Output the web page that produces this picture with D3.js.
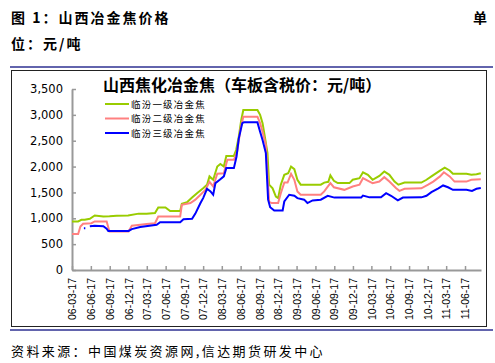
<!DOCTYPE html>
<html>
<head>
<meta charset="utf-8">
<script src="https://cdn.jsdelivr.net/npm/d3@7"></script>
<style>
  body { margin: 0; background: #fff; }
  svg { display: block; }
</style>
</head>
<body>
<svg id="chart" width="495" height="363"></svg>
<script>
// series names, as in the legend
var seriesNames = ["临汾一级冶金焦", "临汾二级冶金焦", "临汾三级冶金焦"];
var seriesColors = ["#99CC00", "#FF8080", "#0000FF"];

var yTicks = [0, 500, 1000, 1500, 2000, 2500, 3000, 3500];

var xTickLabels = ["06-03-17", "06-06-17", "06-09-17", "06-12-17", "07-03-17", "07-06-17",
  "07-09-17", "07-12-17", "08-03-17", "08-06-17", "08-09-17", "08-12-17", "09-03-17",
  "09-06-17", "09-09-17", "09-12-17", "10-03-17", "10-06-17", "10-09-17", "10-12-17",
  "11-03-17", "11-06-17"];

// 临汾一级冶金焦 (yuan/ton)
var grade1 = [
  ["2006-03-17", 940], ["2006-04-16", 940], ["2006-05-02", 970], ["2006-05-18", 970],
  ["2006-06-12", 990], ["2006-07-06", 1055], ["2006-08-17", 1035], ["2006-09-16", 1040],
  ["2006-10-21", 1050], ["2006-12-16", 1055], ["2007-02-05", 1090], ["2007-03-16", 1090],
  ["2007-04-26", 1100], ["2007-05-12", 1210], ["2007-06-16", 1210], ["2007-07-09", 1140],
  ["2007-08-27", 1140], ["2007-09-04", 1280], ["2007-09-29", 1310], ["2007-10-24", 1400],
  ["2007-11-17", 1485], ["2007-12-17", 1580], ["2008-01-05", 1650], ["2008-01-17", 1810],
  ["2008-02-04", 1745], ["2008-02-24", 2000], ["2008-03-10", 2050], ["2008-03-27", 2000],
  ["2008-04-08", 2205], ["2008-05-15", 2205], ["2008-05-26", 2320], ["2008-06-08", 2580],
  ["2008-06-20", 2900], ["2008-06-30", 3095], ["2008-09-07", 3095], ["2008-09-20", 3000],
  ["2008-10-02", 2840], ["2008-10-13", 2580], ["2008-10-26", 2260], ["2008-11-03", 1650],
  ["2008-11-20", 1580], ["2008-12-06", 1420], ["2008-12-17", 1390], ["2008-12-30", 1650],
  ["2009-01-16", 1840], ["2009-02-04", 1870], ["2009-02-18", 2000], ["2009-03-06", 1950],
  ["2009-03-21", 1745], ["2009-04-06", 1650], ["2009-07-13", 1650], ["2009-07-30", 1690],
  ["2009-08-19", 1705], ["2009-08-29", 1830], ["2009-09-15", 1725], ["2009-10-04", 1680],
  ["2009-11-30", 1680], ["2009-12-16", 1745], ["2010-01-18", 1775], ["2010-02-04", 1890],
  ["2010-02-28", 1840], ["2010-03-23", 1745], ["2010-04-25", 1820], ["2010-05-19", 1905],
  ["2010-06-13", 1840], ["2010-07-08", 1710], ["2010-07-27", 1650], ["2010-08-26", 1690],
  ["2010-11-16", 1690], ["2010-12-11", 1745], ["2011-01-04", 1810], ["2011-02-15", 1920],
  ["2011-03-10", 1980], ["2011-04-03", 1925], ["2011-04-19", 1860], ["2011-06-24", 1860],
  ["2011-07-18", 1840], ["2011-08-12", 1850], ["2011-09-02", 1870]
];

// 临汾二级冶金焦
var grade2 = [
  ["2006-03-17", 695], ["2006-04-16", 695], ["2006-04-27", 840], ["2006-05-10", 895],
  ["2006-06-20", 905], ["2006-07-06", 940], ["2006-09-02", 940], ["2006-09-16", 745],
  ["2006-12-18", 745], ["2007-01-03", 855], ["2007-02-13", 875], ["2007-03-16", 890],
  ["2007-04-26", 905], ["2007-05-12", 1035], ["2007-08-27", 1035], ["2007-09-04", 1260],
  ["2007-10-16", 1295], ["2007-11-09", 1360], ["2007-12-04", 1455], ["2007-12-28", 1550],
  ["2008-01-17", 1705], ["2008-02-04", 1615], ["2008-02-24", 1860], ["2008-03-27", 1870],
  ["2008-04-13", 2130], ["2008-05-15", 2130], ["2008-05-31", 2290], ["2008-06-17", 2740],
  ["2008-06-30", 2965], ["2008-09-07", 2965], ["2008-09-20", 2840], ["2008-10-02", 2675],
  ["2008-10-18", 2420], ["2008-11-03", 1325], ["2008-11-15", 1295], ["2008-12-17", 1295],
  ["2008-12-30", 1485], ["2009-01-16", 1690], ["2009-02-01", 1690], ["2009-02-18", 1860],
  ["2009-03-06", 1745], ["2009-03-21", 1520], ["2009-04-06", 1455], ["2009-07-13", 1455],
  ["2009-07-30", 1520], ["2009-08-29", 1680], ["2009-09-15", 1600], ["2009-11-05", 1550],
  ["2009-12-16", 1615], ["2010-01-18", 1650], ["2010-02-04", 1775], ["2010-03-08", 1710],
  ["2010-03-23", 1680], ["2010-04-25", 1710], ["2010-05-19", 1795], ["2010-06-13", 1710],
  ["2010-07-16", 1580], ["2010-08-01", 1530], ["2010-08-26", 1570], ["2010-11-16", 1580],
  ["2010-12-19", 1650], ["2011-01-13", 1710], ["2011-02-15", 1810], ["2011-03-06", 1890],
  ["2011-04-03", 1810], ["2011-04-27", 1710], ["2011-06-24", 1710], ["2011-07-18", 1745],
  ["2011-09-02", 1755]
];

// 临汾三级冶金焦 (null = no quote)
var grade3 = [
  ["2006-05-14", 805], ["2006-05-21", 805], ["2006-06-01", null],
  ["2006-06-12", 845], ["2006-07-06", 855], ["2006-08-17", 845], ["2006-09-02", 800],
  ["2006-09-10", 755], ["2006-12-18", 755], ["2007-01-03", 790], ["2007-02-13", 830],
  ["2007-05-04", 875], ["2007-05-21", 925], ["2007-08-27", 925], ["2007-09-12", 980],
  ["2007-10-24", 990], ["2007-11-09", 1090], ["2007-12-04", 1295], ["2007-12-17", 1390],
  ["2008-01-05", 1570], ["2008-01-22", 1520], ["2008-02-04", 1455], ["2008-02-15", 1680],
  ["2008-03-07", 1745], ["2008-03-27", 1810], ["2008-04-08", 1970], ["2008-05-15", 1970],
  ["2008-05-28", 2195], ["2008-06-08", 2545], ["2008-06-25", 2840], ["2008-07-03", 2855],
  ["2008-09-07", 2855], ["2008-09-20", 2675], ["2008-10-02", 2515], ["2008-10-18", 2260],
  ["2008-10-29", 1360], ["2008-11-08", 1215], ["2008-11-28", 1150], ["2009-01-08", 1150],
  ["2009-01-16", 1325], ["2009-02-09", 1455], ["2009-03-06", 1435], ["2009-03-21", 1390],
  ["2009-04-23", 1360], ["2009-05-09", 1295], ["2009-06-03", 1345], ["2009-07-13", 1360],
  ["2009-08-16", 1435], ["2009-09-18", 1400], ["2010-01-26", 1400], ["2010-02-04", 1440],
  ["2010-03-08", 1405], ["2010-05-03", 1405], ["2010-05-28", 1485], ["2010-06-21", 1435],
  ["2010-07-24", 1345], ["2010-08-18", 1400], ["2010-11-16", 1405], ["2010-12-11", 1435],
  ["2011-01-04", 1505], ["2011-02-07", 1580], ["2011-03-02", 1635], ["2011-03-26", 1600],
  ["2011-04-19", 1550], ["2011-06-24", 1550], ["2011-07-21", 1530], ["2011-08-12", 1570],
  ["2011-09-02", 1585]
];

var allSeries = [grade1, grade2, grade3];

var svg = d3.select("#chart");
var cjk = "'Noto Sans CJK SC', sans-serif";

// page header
svg.append("text").attr("x", 11).attr("y", 23)
  .attr("font-family", cjk).attr("font-weight", 700).attr("font-size", 14)
  .attr("letter-spacing", 2).attr("fill", "#000")
  .text("图 1：山西冶金焦价格");
svg.append("text").attr("x", 473).attr("y", 23)
  .attr("font-family", cjk).attr("font-weight", 700).attr("font-size", 14)
  .attr("fill", "#000").text("单");
svg.append("text").attr("x", 11).attr("y", 49)
  .attr("font-family", cjk).attr("font-weight", 700).attr("font-size", 14)
  .attr("letter-spacing", 2).attr("fill", "#000")
  .text("位：元/吨");

svg.append("line").attr("x1", 10).attr("x2", 493).attr("y1", 67).attr("y2", 67)
  .attr("stroke", "#2E3192").attr("stroke-width", 1.5);
svg.append("line").attr("x1", 10).attr("x2", 493).attr("y1", 330).attr("y2", 330)
  .attr("stroke", "#2E3192").attr("stroke-width", 1.5);

// chart frame
svg.append("rect").attr("x", 11.5).attr("y", 70.5).attr("width", 475).attr("height", 256)
  .attr("fill", "#fff").attr("stroke", "#222").attr("stroke-width", 1);

var parseDay = d3.timeParse("%Y-%m-%d");
var parseTick = d3.timeParse("%y-%m-%d");

var x = d3.scaleTime()
  .domain([parseDay("2006-03-17"), parseDay("2011-09-03")])
  .range([72, 481]);
var y = d3.scaleLinear().domain([0, 3500]).range([270, 89]);

// y axis
var yAxis = d3.axisLeft(y).tickValues(yTicks).tickSizeInner(-4).tickSizeOuter(0)
  .tickPadding(9).tickFormat(d3.format(","));
var gy = svg.append("g").attr("transform", "translate(72,0)").call(yAxis);
gy.select(".domain").attr("stroke", "#999").attr("stroke-width", 2);
gy.selectAll(".tick line").attr("stroke", "#999").attr("stroke-width", 1.5);
gy.selectAll(".tick text").attr("font-family", "'DejaVu Sans', sans-serif")
  .attr("font-size", 11.5).attr("fill", "#000");

// x axis, quarterly ticks
var tickDates = xTickLabels.map(function(s) { return parseTick(s); });
var xAxis = d3.axisBottom(x).tickValues(tickDates).tickSizeInner(-4).tickSizeOuter(0)
  .tickFormat(d3.timeFormat("%y-%m-%d"));
var gx = svg.append("g").attr("transform", "translate(0,270)").call(xAxis);
gx.select(".domain").attr("stroke", "#999").attr("stroke-width", 2);
gx.selectAll(".tick line").attr("stroke", "#999").attr("stroke-width", 1.5);
gx.selectAll(".tick text")
  .attr("font-family", "'Liberation Sans', sans-serif").attr("font-size", 10.5)
  .attr("fill", "#000")
  .attr("text-anchor", "end")
  .attr("transform", "rotate(-90)")
  .attr("x", -8).attr("y", 0).attr("dy", "0.35em");

// lines
var line = d3.line()
  .defined(function(d) { return d[1] != null; })
  .x(function(d) { return x(parseDay(d[0])); })
  .y(function(d) { return y(d[1]); });

allSeries.forEach(function(s, i) {
  svg.append("path").datum(s)
    .attr("fill", "none")
    .attr("stroke", seriesColors[i])
    .attr("stroke-width", 2)
    .attr("stroke-linejoin", "miter")
    .attr("d", line);
});

// chart title
svg.append("text").attr("x", 103).attr("y", 90.5)
  .attr("font-family", cjk).attr("font-weight", 700).attr("font-size", 16)
  .attr("fill", "#000").text("山西焦化冶金焦（车板含税价：元/吨）");

// legend
var legend = svg.append("g");
seriesNames.forEach(function(name, i) {
  var ly = 104 + i * 14.5;
  legend.append("line").attr("x1", 105).attr("x2", 129).attr("y1", ly).attr("y2", ly)
    .attr("stroke", seriesColors[i]).attr("stroke-width", 2);
  legend.append("text").attr("x", 131).attr("y", ly + 3.5)
    .attr("font-family", cjk).attr("font-size", 9.5).attr("letter-spacing", 1.2)
    .attr("fill", "#000").text(name);
});

// source note
svg.append("text").attr("x", 11).attr("y", 356)
  .attr("font-family", cjk).attr("font-size", 13).attr("letter-spacing", 2.4)
  .attr("fill", "#000").text("资料来源：中国煤炭资源网,信达期货研发中心");
</script>
</body>
</html>
